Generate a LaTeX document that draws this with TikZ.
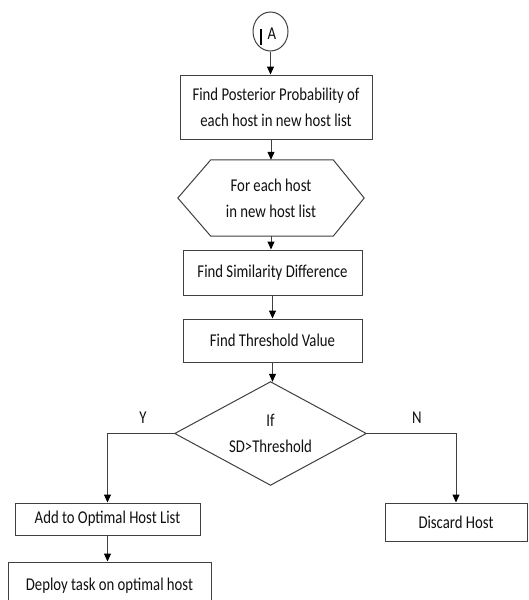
\documentclass[tikz,border=0pt]{standalone}
\usepackage{fontspec}
\setmainfont{Carlito}[FakeStretch=0.82]
\usetikzlibrary{shapes.geometric,arrows.meta}
\definecolor{linegray}{HTML}{404040}
\definecolor{textdark}{HTML}{101010}
\begin{document}
\begin{tikzpicture}[x=1pt,y=-1pt,
  line/.style={draw=linegray, line width=1pt},
  arr/.style={line, -{Triangle[length=8pt,width=7pt,fill=black,color=black]}},
  txt/.style={font=\fontsize{18}{26}\selectfont, text=textdark, align=center},
  box/.style={rectangle, draw=linegray, line width=1pt, inner sep=0pt, txt},
  lbl/.style={txt, inner sep=0pt}
]
\useasboundingbox (0,0) rectangle (529,600);
\fill[white] (0,0) rectangle (529,600);

% start connector
\node[ellipse, draw=linegray, line width=1pt, minimum width=35pt, minimum height=39pt, inner sep=0pt] (A) at (270.5,31.5) {};
\node[lbl] (Atxt) at (272,34) {A};
\draw[line width=2pt, black] (261,29) -- (261,45);

\node[box, minimum width=192pt, minimum height=64pt] (b1) at (276,107)
  {Find Posterior Probability of\\each host in new host list};

\node[lbl, minimum width=186pt, minimum height=76pt] (hex) at (271,198)
  {For each host\\in new host list};
\draw[line] (hex.west) -- ([xshift=33pt]hex.north west) -- ([xshift=-31pt]hex.north east)
  -- (hex.east) -- ([xshift=-31pt]hex.south east) -- ([xshift=33pt]hex.south west) -- cycle;

\node[box, minimum width=179pt, minimum height=45pt] (sim) at (272.5,272.5)
  {Find Similarity Difference};
\node[box, minimum width=179pt, minimum height=43pt] (thr) at (272.5,340.5)
  {Find Threshold Value};

\node[lbl, minimum width=191pt, minimum height=103pt] (dia) at (270.5,433.5)
  {If\\SD>Threshold};
\draw[line] (dia.north) -- (dia.east) -- (dia.south) -- (dia.west) -- cycle;

\node[box, minimum width=185pt, minimum height=32pt] (add) at (107.5,519)
  {Add to Optimal Host List};
\node[box, minimum width=142pt, minimum height=38pt] (disc) at (456,522)
  {Discard Host};
\node[box, minimum width=203pt, minimum height=48pt] (dep) at (109.5,586)
  {Deploy task on optimal host};

\node[lbl] (ylab) at (143,418) {Y};
\node[lbl] (nlab) at (417,418) {N};

% connectors
\draw[arr] (A.south) -- (A.south |- b1.north);
\draw[arr] (b1.south -| hex.north) -- (hex.north);
\draw[arr] (hex.south) -- (hex.south |- sim.north);
\draw[arr] (sim.south) -- (thr.north);
\draw[arr] (thr.south) -- (thr.south |- dia.north);
\draw[arr] (dia.west) -| (add.north);
\draw[arr] (dia.east) -| (disc.north);
\draw[arr] (add.south) -- (add.south |- dep.north);
\end{tikzpicture}
\end{document}
